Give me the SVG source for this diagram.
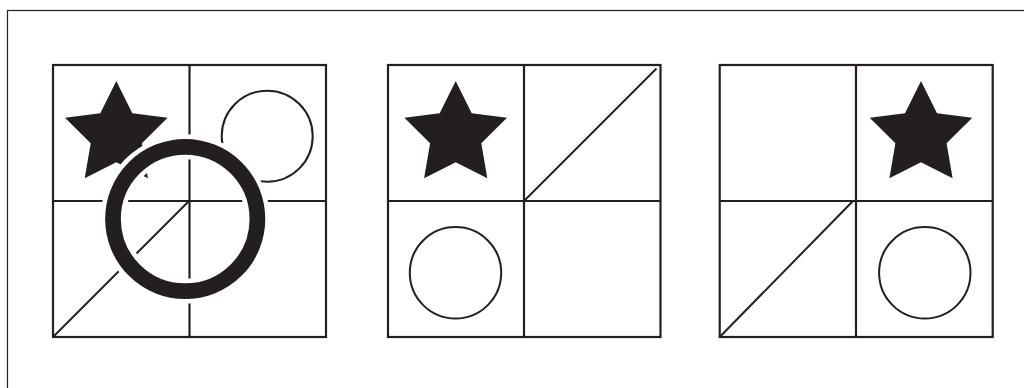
<svg xmlns="http://www.w3.org/2000/svg" width="1024" height="388" viewBox="0 0 1024 388">
  <defs>
    <style>
      .grid { fill: none; stroke: #231f20; stroke-width: 2.2; }
      .thin { fill: none; stroke: #231f20; stroke-width: 2; }
      .star { fill: #231f20; stroke: none; }
    </style>
    <polygon id="star" points="0,81 16,113.3 51.3,117.7 25.6,143.3 31.6,178.3 0,162.3 -31.6,178.3 -25.6,143.3 -51.3,117.7 -16,113.3"/>
  </defs>
  <rect width="1024" height="388" fill="#ffffff"/>
  <rect x="7.5" y="10.5" width="1100" height="500" fill="none" stroke="#231f20" stroke-width="1.2"/>

  <g id="panel1">
    <rect class="grid" x="53" y="65" width="273" height="272"/>
    <line class="grid" x1="189.5" y1="65" x2="189.5" y2="337"/>
    <line class="grid" x1="53" y1="201" x2="326" y2="201"/>
    <use href="#star" class="star" x="116.3" y="0"/>
    <circle class="thin" cx="267.2" cy="136.2" r="45.5"/>
    <line class="thin" x1="53" y1="337" x2="189" y2="201"/>
    <circle cx="185.2" cy="219" r="72.2" fill="none" stroke="#ffffff" stroke-width="25"/>
    <circle cx="185.2" cy="219" r="72.2" fill="none" stroke="#231f20" stroke-width="15.7"/>
  </g>

  <g id="panel2">
    <rect class="grid" x="388" y="65" width="272.5" height="272"/>
    <line class="grid" x1="524" y1="65" x2="524" y2="337"/>
    <line class="grid" x1="388" y1="201" x2="660.5" y2="201"/>
    <use href="#star" class="star" x="455.7" y="0"/>
    <line class="thin" x1="524" y1="201" x2="656.5" y2="68.5"/>
    <circle class="thin" cx="455.5" cy="272.8" r="45.7"/>
  </g>

  <g id="panel3">
    <rect class="grid" x="719.7" y="65" width="273" height="272"/>
    <line class="grid" x1="856" y1="65" x2="856" y2="337"/>
    <line class="grid" x1="719.7" y1="201" x2="992.7" y2="201"/>
    <use href="#star" class="star" x="921" y="0"/>
    <line class="thin" x1="719.7" y1="337" x2="853" y2="201"/>
    <circle class="thin" cx="924.8" cy="272.8" r="45.7"/>
  </g>
</svg>
